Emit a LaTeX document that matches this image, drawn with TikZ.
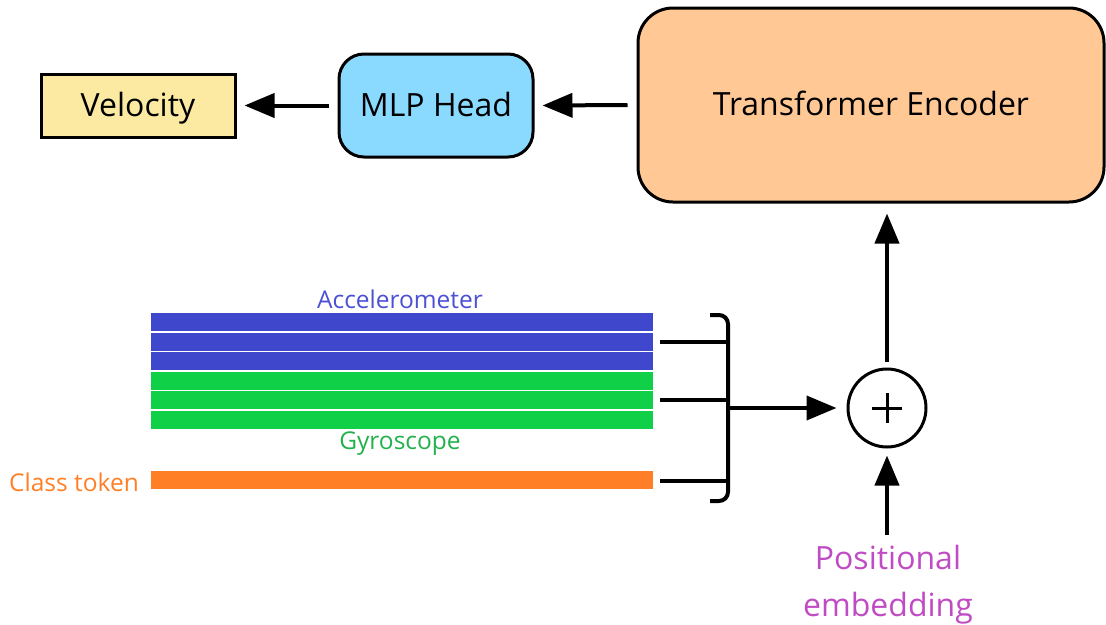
\documentclass[tikz,border=0pt]{standalone}
\usepackage{fontspec}
\setmainfont{Open Sans}
\usetikzlibrary{arrows.meta}
\definecolor{velfill}{HTML}{FCE9A2}
\definecolor{mlpfill}{HTML}{8AD9FF}
\definecolor{encfill}{HTML}{FFC894}
\definecolor{accblue}{HTML}{3F48CC}
\definecolor{acctext}{HTML}{4B50D4}
\definecolor{gyrgreen}{HTML}{10D048}
\definecolor{gyrtext}{HTML}{22B14C}
\definecolor{clsorange}{HTML}{FF7F27}
\definecolor{posviolet}{HTML}{C04BC4}
\tikzset{
  block/.style={draw=black, line width=3pt, inner sep=0pt, align=center,
                text height=24pt, text depth=3pt,
                font=\fontsize{32}{38}\selectfont},
  conn/.style={line width=4pt, -{Triangle[length=30pt,width=24pt]}},
  tick/.style={line width=4pt},
  bar/.style={rectangle, inner sep=0pt, minimum width=502pt, minimum height=18pt},
  lbl/.style={inner sep=0pt, font=\fontsize{24.5}{29}\selectfont},
}
\begin{document}
\begin{tikzpicture}[x=1pt, y=-1pt]
  \useasboundingbox (0,0) rectangle (1106,624);

  % top row of blocks
  \node[block, fill=velfill, minimum width=194pt, minimum height=63pt] (vel) at (138,105.5) {Velocity};
  \node[block, fill=mlpfill, rounded corners=25pt, minimum width=194pt, minimum height=103pt] (mlp) at (436,105.5) {MLP Head};
  \node[block, fill=encfill, rounded corners=35pt, minimum width=466pt, minimum height=194pt] (enc) at (871,105) {Transformer Encoder};

  \draw[conn] ([xshift=-9pt]mlp.west) -- ([xshift=8pt]vel.east);
  \draw[conn] ([xshift=-9pt]enc.west) -- ([xshift=8pt]mlp.east);

  % token rows
  \node[bar, fill=accblue] (a1) at (402,322) {};
  \node[bar, fill=accblue] (a2) at (402,342) {};
  \node[bar, fill=accblue] (a3) at (402,361) {};
  \node[bar, fill=gyrgreen] (g1) at (402,381) {};
  \node[bar, fill=gyrgreen] (g2) at (402,400) {};
  \node[bar, fill=gyrgreen] (g3) at (402,420) {};
  \node[bar, fill=clsorange] (cls) at (402,480) {};

  \node[lbl, text=acctext] (acclbl) at (400,299) {Accelerometer};
  \node[lbl, text=gyrtext] (gyrlbl) at (400,444) {Gyroscope};
  \node[lbl, text=clsorange, anchor=east] (clslbl) at (139,482) {Class token};

  % bracket gathering the rows
  \coordinate (t1) at (660,342);
  \coordinate (t2) at (660,400);
  \coordinate (t3) at (660,481);
  \coordinate (b1) at (728,342);
  \coordinate (b2) at (728,400);
  \coordinate (b3) at (728,481);
  \coordinate (bm) at (728,408);
  \draw[tick] (t1) -- (b1);
  \draw[tick] (t2) -- (b2);
  \draw[tick] (t3) -- (b3);
  \draw[tick, rounded corners=9pt] (710,315) -- (728,315) -- (728,501) -- (710,501);

  % summation
  \node[circle, draw=black, line width=3pt, minimum size=78pt, inner sep=0pt] (sum) at (887,408) {};
  \draw[line width=3pt] ([xshift=-15pt]sum.center) -- ([xshift=15pt]sum.center);
  \draw[line width=3pt] ([yshift=-15pt]sum.center) -- ([yshift=15pt]sum.center);

  \draw[conn] (bm) -- ([xshift=-10pt]sum.west);
  \draw[conn] ([yshift=6pt]sum.north) -- ([yshift=-10pt]enc.south -| sum.north);

  \node[inner sep=0pt, align=center, text=posviolet, font=\fontsize{32}{47}\selectfont] (pos) at (888,585) {Positional\\embedding};
  \coordinate (posin) at (887,535);
  \draw[conn] (posin) -- ([yshift=-7pt]sum.south);
\end{tikzpicture}
\end{document}
